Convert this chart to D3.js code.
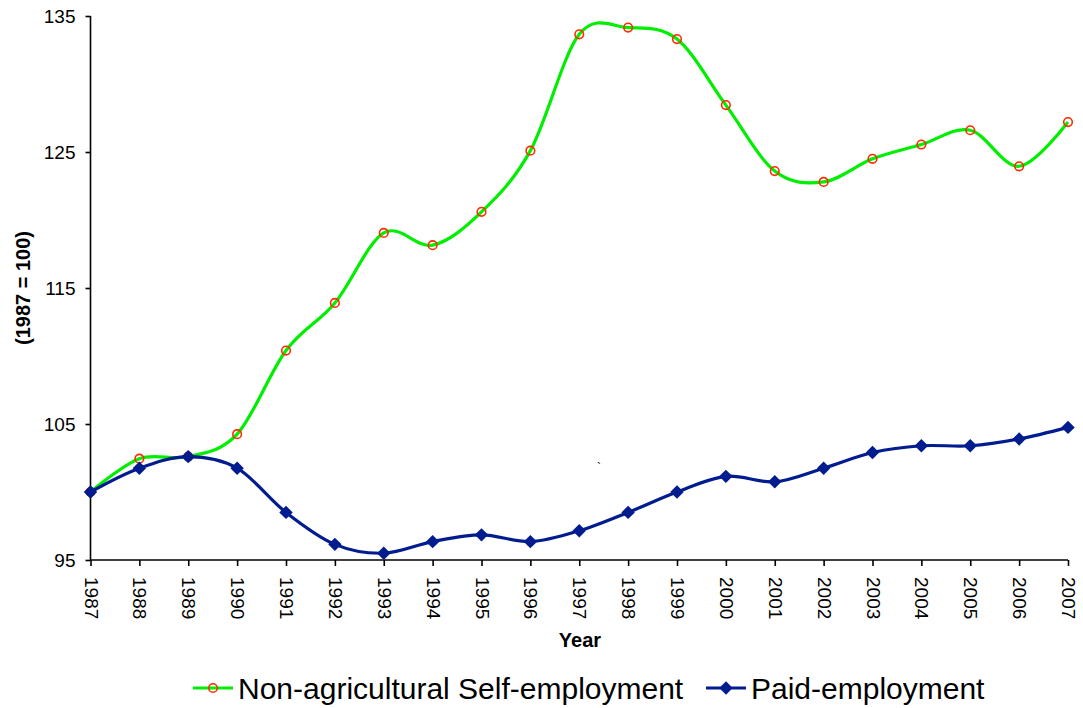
<!DOCTYPE html>
<html>
<head>
<meta charset="utf-8">
<script src="https://cdn.jsdelivr.net/npm/d3@7"></script>
<style>
  html, body { margin: 0; padding: 0; background: #fff; }
  svg { display: block; font-family: Arial, "Liberation Sans", sans-serif; }
</style>
</head>
<body>
<svg id="chart" width="1083" height="708"></svg>
<script>
// Index values, 1987 = 100
const years = [1987, 1988, 1989, 1990, 1991, 1992, 1993, 1994, 1995, 1996, 1997,
               1998, 1999, 2000, 2001, 2002, 2003, 2004, 2005, 2006, 2007];
const selfEmployment = [100, 102.45, 102.6, 104.25, 110.4, 113.9, 119.05, 118.15, 120.6, 125.1, 133.65,
                        134.15, 133.3, 128.45, 123.6, 122.8, 124.5, 125.55, 126.6, 123.95, 127.2];
const paidEmployment = [100, 101.75, 102.6, 101.75, 98.5, 96.15, 95.5, 96.35, 96.85, 96.35, 97.15,
                        98.5, 100, 101.15, 100.75, 101.75, 102.9, 103.4, 103.4, 103.9, 104.75];
const yTicks = [95, 105, 115, 125, 135];

const svg = d3.select("#chart");
const margin = { left: 90.5, right: 1068, top: 16, bottom: 560 };

const x = d3.scaleLinear().domain([1987, 2007]).range([margin.left, margin.right]);
const y = d3.scaleLinear().domain([95, 135]).range([margin.bottom, margin.top]);

// Axes
const yAxis = svg.append("g")
  .attr("transform", `translate(${margin.left},0)`)
  .call(d3.axisLeft(y).tickValues(yTicks).tickSize(5).tickPadding(10).tickFormat(d3.format("d")));
yAxis.select(".domain").attr("stroke", "#000").attr("stroke-width", 1.6).attr("d", `M-0,${margin.top}V${margin.bottom}`);
yAxis.selectAll(".tick line").attr("stroke", "#000").attr("stroke-width", 1.6);
yAxis.selectAll(".tick text").attr("font-size", 19).attr("fill", "#000")
  .attr("font-family", "Arial, 'Liberation Sans', sans-serif");

const xAxis = svg.append("g")
  .attr("transform", `translate(0,${margin.bottom})`)
  .call(d3.axisBottom(x).tickValues(years).tickSize(6).tickFormat(d3.format("d")));
xAxis.select(".domain").attr("stroke", "#000").attr("stroke-width", 1.6).attr("d", `M${margin.left},0H${margin.right}`);
xAxis.selectAll(".tick line").attr("stroke", "#000").attr("stroke-width", 1.6);
xAxis.selectAll(".tick text")
  .attr("font-size", 19).attr("fill", "#000")
  .attr("font-family", "Arial, 'Liberation Sans', sans-serif")
  .attr("text-anchor", "start")
  .attr("dy", null).attr("y", 0)
  .attr("transform", "translate(0,17) rotate(90)")
  .attr("dominant-baseline", "central");

// Axis titles
svg.append("text")
  .attr("x", 580).attr("y", 647)
  .attr("text-anchor", "middle")
  .attr("font-size", 20).attr("font-weight", "bold")
  .text("Year");

svg.append("text")
  .attr("transform", `translate(30,288) rotate(-90)`)
  .attr("text-anchor", "middle")
  .attr("font-size", 20).attr("font-weight", "bold")
  .text("(1987 = 100)");

// Smoothed series lines
const line = d3.line()
  .x((d, i) => x(years[i]))
  .y(d => y(d))
  .curve(d3.curveCardinal.tension(0));

const green = "#00EE00";
const markerRed = "#FF2A00";
const navy = "#001C8E";

svg.append("path")
  .datum(selfEmployment)
  .attr("fill", "none").attr("stroke", green).attr("stroke-width", 3.2)
  .attr("d", line);

svg.append("g").selectAll("circle")
  .data(selfEmployment)
  .join("circle")
  .attr("cx", (d, i) => x(years[i]))
  .attr("cy", d => y(d))
  .attr("r", 4.3)
  .attr("fill", "none").attr("stroke", markerRed).attr("stroke-width", 1.6);

svg.append("path")
  .datum(paidEmployment)
  .attr("fill", "none").attr("stroke", navy).attr("stroke-width", 3.2)
  .attr("d", line);

const diamondPath = d3.symbol().type(d3.symbolSquare).size(90);
svg.append("g").selectAll("path")
  .data(paidEmployment)
  .join("path")
  .attr("transform", (d, i) => `translate(${x(years[i])},${y(d)}) rotate(45)`)
  .attr("d", diamondPath)
  .attr("fill", navy);

// Small stray mark inside the plot
svg.append("text")
  .attr("x", 597).attr("y", 472)
  .attr("font-size", 12).attr("fill", "#000")
  .text("`");

// Legend
const legend = svg.append("g").attr("transform", "translate(0,688)");
legend.append("line").attr("x1", 193).attr("x2", 233).attr("y1", 0).attr("y2", 0)
  .attr("stroke", green).attr("stroke-width", 3.2);
legend.append("circle").attr("cx", 213).attr("cy", 0).attr("r", 4.3)
  .attr("fill", "none").attr("stroke", markerRed).attr("stroke-width", 1.6);
legend.append("text").attr("x", 238).attr("y", 0).attr("dy", "0.36em")
  .attr("font-size", 30).text("Non-agricultural Self-employment");

legend.append("line").attr("x1", 706).attr("x2", 746).attr("y1", 0).attr("y2", 0)
  .attr("stroke", navy).attr("stroke-width", 3.2);
legend.append("path").attr("transform", "translate(726,0) rotate(45)")
  .attr("d", diamondPath).attr("fill", navy);
legend.append("text").attr("x", 751).attr("y", 0).attr("dy", "0.36em")
  .attr("font-size", 30).text("Paid-employment");
</script>
</body>
</html>
